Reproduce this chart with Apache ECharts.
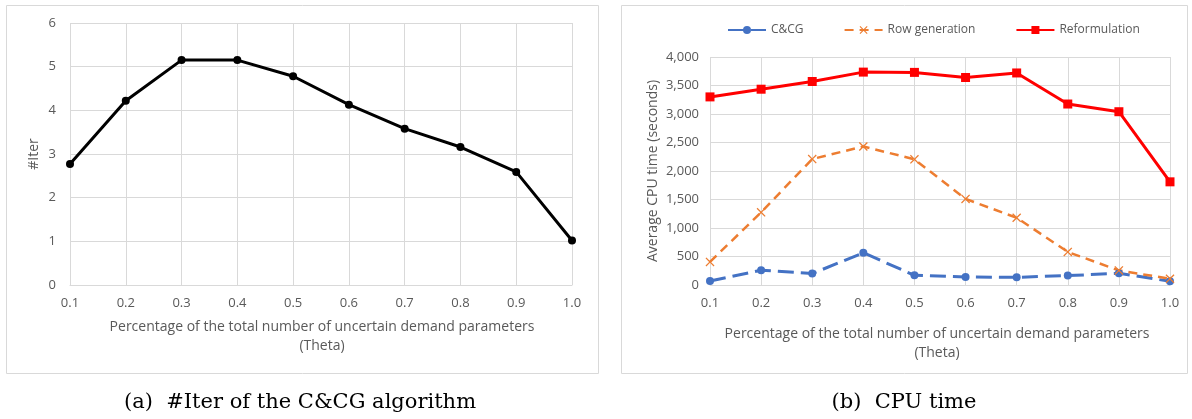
<!DOCTYPE html>
<html>
<head>
<meta charset="utf-8">
<script src="https://cdn.jsdelivr.net/npm/echarts@6/dist/echarts.min.js"></script>
<style>
  html, body { margin: 0; padding: 0; background: #fff; }
  #chart { width: 1192px; height: 419px; }
</style>
</head>
<body>
<div id="chart"></div>
<script>
// theta values (x axis, both charts)
var thetas = ['0.1', '0.2', '0.3', '0.4', '0.5', '0.6', '0.7', '0.8', '0.9', '1.0'];
// (a) number of iterations of C&CG
var iterValues = [2.77, 4.22, 5.15, 5.15, 4.78, 4.13, 3.58, 3.16, 2.59, 1.02];
// (b) average CPU time in seconds
var ccgTime = [70, 260, 200, 565, 170, 140, 135, 165, 205, 65];
var rowGenTime = [405, 1275, 2210, 2430, 2205, 1510, 1180, 580, 255, 110];
var reformTime = [3300, 3435, 3570, 3735, 3730, 3640, 3720, 3175, 3040, 1810];
var seriesNames = ['C&CG', 'Row generation', 'Reformulation'];

var FONT = 'Open Sans';
var GREY = '#595959';
var GRID = '#d9d9d9';

var chart = echarts.init(document.getElementById('chart'));

// filled "x" marker like the excel one
var crossPath = 'path://M0,1 L1,0 L5,4 L9,0 L10,1 L6,5 L10,9 L9,10 L5,6 L1,10 L0,9 L4,5 Z';

function catAxis(idx) {
  return {
    type: 'category',
    gridIndex: idx,
    data: thetas,
    boundaryGap: false,
    axisLine: { lineStyle: { color: GRID, width: 1 } },
    axisTick: { show: false },
    axisLabel: { color: GREY, fontFamily: FONT, fontSize: 13, margin: 12 },
    splitLine: { show: true, lineStyle: { color: GRID, width: 1 } }
  };
}

var option = {
  animation: false,
  textStyle: { fontFamily: FONT },
  legend: {
    data: seriesNames,
    top: 19,
    left: 722,
    itemWidth: 38,
    itemHeight: 10,
    itemGap: 40,
    textStyle: { color: GREY, fontFamily: FONT, fontSize: 12 }
  },
  grid: [
    { left: 70, top: 23, width: 502, height: 262 },
    { left: 710, top: 57, width: 460, height: 228 }
  ],
  xAxis: [catAxis(0), catAxis(1)],
  yAxis: [
    {
      type: 'value',
      gridIndex: 0,
      min: 0, max: 6, interval: 1,
      name: '#Iter',
      nameLocation: 'middle',
      nameGap: 29,
      nameTextStyle: { color: GREY, fontFamily: FONT, fontSize: 14 },
      axisLine: { show: false },
      axisTick: { show: false },
      axisLabel: { color: GREY, fontFamily: FONT, fontSize: 13, margin: 14 },
      splitLine: { lineStyle: { color: GRID, width: 1 } }
    },
    {
      type: 'value',
      gridIndex: 1,
      min: 0, max: 4000, interval: 500,
      name: 'Average CPU time (seconds)',
      nameLocation: 'middle',
      nameGap: 50,
      nameTextStyle: { color: GREY, fontFamily: FONT, fontSize: 14 },
      axisLine: { show: false },
      axisTick: { show: false },
      axisLabel: {
        color: GREY, fontFamily: FONT, fontSize: 13, margin: 11,
        formatter: function (v) { return v.toLocaleString('en-US'); }
      },
      splitLine: { lineStyle: { color: GRID, width: 1 } }
    }
  ],
  series: [
    {
      name: '#Iter',
      type: 'line',
      xAxisIndex: 0, yAxisIndex: 0,
      data: iterValues,
      symbol: 'circle',
      symbolSize: 8,
      lineStyle: { color: '#000', width: 3 },
      itemStyle: { color: '#000' }
    },
    {
      name: seriesNames[0],
      type: 'line',
      xAxisIndex: 1, yAxisIndex: 1,
      data: ccgTime,
      symbol: 'circle',
      symbolSize: 8,
      lineStyle: { color: '#4472C4', width: 3, type: [16, 7] },
      itemStyle: { color: '#4472C4' }
    },
    {
      name: seriesNames[1],
      type: 'line',
      xAxisIndex: 1, yAxisIndex: 1,
      data: rowGenTime,
      symbol: crossPath,
      symbolSize: 9,
      lineStyle: { color: '#ED7D31', width: 2.5, type: [9, 6] },
      itemStyle: { color: '#ED7D31' }
    },
    {
      name: seriesNames[2],
      type: 'line',
      xAxisIndex: 1, yAxisIndex: 1,
      data: reformTime,
      symbol: 'rect',
      symbolSize: 9,
      lineStyle: { color: '#FF0000', width: 3 },
      itemStyle: { color: '#FF0000' }
    }
  ],
  graphic: [
    { type: 'rect', shape: { x: 6.5, y: 5.5, width: 592, height: 368 }, style: { fill: null, stroke: GRID, lineWidth: 1 }, z: -1 },
    { type: 'rect', shape: { x: 621.5, y: 5.5, width: 566, height: 368 }, style: { fill: null, stroke: GRID, lineWidth: 1 }, z: -1 },
    { type: 'text', x: 322, y: 327, style: { text: 'Percentage of the total number of uncertain demand parameters', fill: GREY, font: '14px "Open Sans"', align: 'center', verticalAlign: 'middle' } },
    { type: 'text', x: 322, y: 346, style: { text: '(Theta)', fill: GREY, font: '14px "Open Sans"', align: 'center', verticalAlign: 'middle' } },
    { type: 'text', x: 937, y: 334, style: { text: 'Percentage of the total number of uncertain demand parameters', fill: GREY, font: '14px "Open Sans"', align: 'center', verticalAlign: 'middle' } },
    { type: 'text', x: 937, y: 353, style: { text: '(Theta)', fill: GREY, font: '14px "Open Sans"', align: 'center', verticalAlign: 'middle' } },
    { type: 'text', x: 300, y: 403, style: { text: '(a)  #Iter of the C&CG algorithm', fill: '#000', font: '21px "DejaVu Serif"', align: 'center', verticalAlign: 'middle' } },
    { type: 'text', x: 904, y: 403, style: { text: '(b)  CPU time', fill: '#000', font: '21px "DejaVu Serif"', align: 'center', verticalAlign: 'middle' } }
  ]
};

chart.setOption(option);
</script>
</body>
</html>
